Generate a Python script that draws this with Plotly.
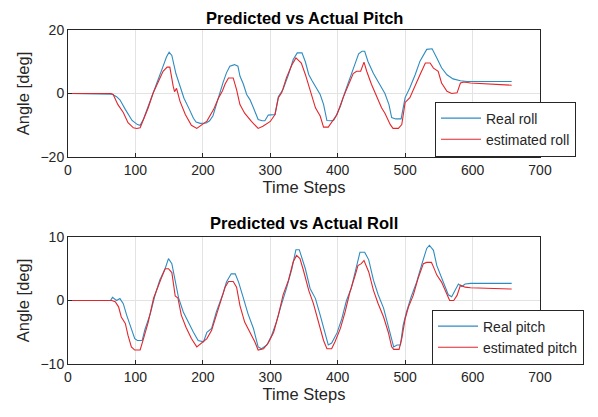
import plotly.graph_objects as go

# ---------------- data ----------------
# Top panel: "Predicted vs Actual Pitch"
real_roll_x = [0, 60, 65, 72, 77, 85, 95, 103, 107, 112, 118, 125, 133, 140, 146, 150, 154, 160, 166, 172, 180, 186, 190,
               196, 205, 210, 215, 220, 225, 230, 235, 240, 247, 252, 255, 260, 265, 270, 275, 282, 288, 292, 297, 307,
               312, 319, 327, 334, 340, 347, 352, 357, 362, 367, 374, 379, 384, 390, 394, 397, 404, 411, 418, 426, 431,
               436, 440, 445, 453, 463, 470, 476, 480, 486, 494, 500, 507, 515, 522, 532, 540, 547, 554, 562, 571,
               582, 592, 620, 658]
real_roll_y = [0, 0, -0.2, -1.0, -2.0, -5.0, -8.5, -9.8, -10.0, -8.0, -4.5, 0.0, 4.0, 8.0, 11.5, 13.0, 12.0, 6.3, 2.0,
               -1.5, -5.0, -7.8, -9.0, -9.4, -9.3, -8.6, -7.0, -3.5, 0.5, 3.5, 6.5, 8.6, 9.1, 8.6, 5.5, 3.0, -0.3, -2.0,
               -4.5, -8.2, -8.6, -8.6, -6.8, -6.6, -1.0, 1.3, 6.0, 10.7, 12.8, 12.8, 10.0, 6.0, 4.0, 2.3, -0.3, -3.4,
               -8.5, -8.6, -8.4, -7.3, -4.0, 0.6, 4.8, 9.0, 12.5, 13.3, 13.3, 10.0, 6.3, 2.6, 0.0, -3.5, -7.6, -8.0,
               -8.0, -1.3, 1.8, 6.0, 10.2, 13.9, 14.1, 11.2, 8.1, 5.9, 4.6, 4.0, 3.8, 3.8, 3.8]

est_roll_x = [0, 63, 67, 74, 82, 89, 97, 102, 107, 112, 119, 126, 134, 141, 147, 151, 156, 158, 161, 166, 174, 183,
              191, 198, 206, 216, 223, 229, 233, 238, 245, 250, 255, 262, 272, 282, 289, 300, 307, 312, 317, 324, 332,
              338, 343, 346, 352, 359, 367, 374, 379, 386, 391, 399, 408, 416, 423, 428, 434, 439, 443, 450, 458, 465,
              470, 478, 482, 490, 495, 500, 507, 515, 522, 530, 537, 542, 549, 554, 562, 569, 577, 582, 587, 597, 658]
est_roll_y = [0, 0, -0.3, -3.5, -6.0, -9.2, -10.8, -11.0, -10.8, -8.4, -4.5, 0.0, 3.9, 7.0, 8.3, 8.3, 2.3, 0.6, 1.6,
              -2.4, -6.6, -10.0, -11.0, -10.0, -8.7, -5.0, -1.5, 0.8, 3.0, 4.9, 4.9, 1.2, -3.5, -6.2, -8.8, -11.0,
              -10.3, -8.8, -6.6, -1.3, 0.3, 5.0, 9.0, 11.2, 10.2, 9.6, 6.0, 0.7, -4.5, -7.1, -10.6, -10.6, -9.2, -6.6,
              -1.3, 2.9, 6.3, 7.0, 7.0, 9.9, 7.0, 2.9, -0.8, -4.5, -6.2, -9.8, -11.0, -11.0, -9.8, -2.8, -1.3, 2.3,
              5.9, 9.6, 9.6, 8.0, 7.0, 3.3, 0.7, 0.0, 0.2, 3.3, 3.6, 3.3, 2.6]

# Bottom panel: "Predicted vs Actual Roll"
real_pitch_x = [0, 63, 66, 72, 77, 82, 87, 94, 99, 103, 110, 114, 122, 129, 136, 144, 149, 154, 159, 164, 171, 178,
                186, 193, 201, 206, 213, 220, 230, 235, 242, 248, 253, 260, 267, 275, 282, 287, 295, 302, 309, 316,
                324, 332, 338, 343, 346, 352, 359, 367, 374, 381, 386, 391, 399, 406, 413, 420, 428, 433, 440, 446,
                453, 460, 468, 475, 483, 488, 493, 497, 502, 509, 517, 525, 532, 536, 542, 547, 554, 559, 564, 569,
                574, 579, 584, 589, 597, 658]
real_pitch_y = [0, 0, 0.5, 0.0, 0.3, -0.5, -2.3, -4.4, -6.0, -6.3, -6.3, -4.6, -2.1, 0.8, 3.2, 5.0, 6.6, 5.8, 2.9, 0.4,
                -1.8, -3.4, -5.0, -6.3, -6.5, -5.0, -4.4, -1.8, 1.1, 2.9, 4.2, 4.2, 2.9, 0.4, -2.1, -4.4, -7.3, -7.6,
                -7.0, -5.5, -3.4, -0.8, 1.9, 5.0, 8.0, 8.0, 7.0, 5.0, 1.9, 0.3, -2.3, -5.1, -7.0, -6.7, -5.1, -2.9, 0.0,
                1.9, 5.5, 7.6, 7.6, 6.4, 3.2, 0.9, -1.2, -4.0, -7.3, -7.0, -7.0, -3.9, -1.8, 0.6, 2.9, 5.8, 8.2, 8.7,
                7.9, 5.5, 3.7, 2.2, 0.9, 0.6, 1.6, 2.6, 2.2, 2.6, 2.7, 2.7]

est_pitch_x = [0, 65, 70, 75, 79, 85, 89, 94, 99, 107, 112, 119, 127, 131, 138, 144, 149, 154, 159, 163, 168, 175,
               183, 191, 198, 206, 213, 220, 228, 233, 238, 245, 250, 255, 262, 270, 277, 282, 290, 297, 305, 312,
               319, 327, 334, 339, 344, 349, 357, 364, 371, 379, 384, 391, 396, 404, 411, 418, 426, 430, 435, 439,
               446, 453, 460, 468, 475, 480, 483, 491, 495, 500, 505, 512, 519, 527, 532, 539, 542, 547, 554, 562,
               566, 572, 577, 582, 589, 597, 658]
est_pitch_y = [0, 0, -0.2, -1.0, -2.6, -3.6, -5.5, -7.3, -7.8, -7.8, -6.0, -3.4, 0.4, 1.6, 3.4, 5.0, 5.0, 4.4, 0.7,
               0.4, -2.3, -4.2, -6.0, -7.3, -6.7, -6.0, -4.7, -2.3, 0.4, 2.1, 3.0, 3.0, 2.1, -0.8, -3.4, -5.0, -6.5,
               -7.8, -7.6, -6.7, -5.0, -2.3, 0.9, 3.2, 6.1, 7.1, 6.6, 4.8, 1.6, -0.5, -3.1, -6.3, -7.6, -7.6, -6.5,
               -4.4, -1.8, 1.3, 4.0, 5.5, 5.8, 6.3, 4.5, 1.6, -0.5, -2.6, -5.0, -7.3, -7.7, -7.7, -6.0, -2.9, -1.0,
               0.8, 3.4, 5.8, 6.0, 6.0, 5.3, 4.0, 2.9, 0.8, 0.0, 0.0, 0.8, 2.4, 2.1, 2.0, 1.8]

x_ticks = [0, 100, 200, 300, 400, 500, 600, 700]
top_y_ticks = [-20, 0, 20]
bot_y_ticks = [-10, 0, 10]

titles = ["Predicted vs Actual Pitch", "Predicted vs Actual Roll"]
x_title = "Time Steps"
y_title = "Angle [deg]"

# ---------------- styling ----------------
BLUE = "#2E8BC0"
RED = "#E3262B"
FONT = "Liberation Sans, Arial, sans-serif"
OFF = 8  # page body margin
W, H = 598 - OFF, 417 - OFF


def fx(p):
    return (p - OFF) / W


def fy(p):
    return 1 - (p - OFF) / H


fig = go.Figure()
fig.add_trace(go.Scatter(x=real_roll_x, y=real_roll_y, mode="lines", name="Real roll",
                         line=dict(color=BLUE, width=1.1), xaxis="x", yaxis="y", legend="legend"))
fig.add_trace(go.Scatter(x=est_roll_x, y=est_roll_y, mode="lines", name="estimated roll",
                         line=dict(color=RED, width=1.1), xaxis="x", yaxis="y", legend="legend"))
fig.add_trace(go.Scatter(x=real_pitch_x, y=real_pitch_y, mode="lines", name="Real pitch",
                         line=dict(color=BLUE, width=1.1), xaxis="x2", yaxis="y2", legend="legend2"))
fig.add_trace(go.Scatter(x=est_pitch_x, y=est_pitch_y, mode="lines", name="estimated pitch",
                         line=dict(color=RED, width=1.1), xaxis="x2", yaxis="y2", legend="legend2"))

x0, x1 = fx(68), fx(540)
top_dom = [fy(157), fy(30)]
bot_dom = [fy(364), fy(237)]

common_x = dict(range=[0, 700], tickvals=x_ticks, domain=[x0, x1], showgrid=True, gridcolor="#E3E3E3",
                gridwidth=1, zeroline=False, showline=True, linecolor="#262626", linewidth=1, mirror=True,
                ticks="inside", ticklen=4, tickcolor="#262626", automargin=False,
                tickfont=dict(family=FONT, size=14, color="#262626"),
                title=dict(text=x_title, font=dict(family=FONT, size=16.5, color="#262626"), standoff=4))
common_y = dict(showgrid=True, gridcolor="#E3E3E3", gridwidth=1, zeroline=False, showline=True,
                linecolor="#262626", linewidth=1, mirror=True, ticks="inside", ticklen=4, tickcolor="#262626",
                automargin=False,
                tickfont=dict(family=FONT, size=14, color="#262626"),
                title=dict(text=y_title, font=dict(family=FONT, size=16.5, color="#262626"), standoff=6))

legend_style = dict(bgcolor="white", bordercolor="#262626", borderwidth=1,
                    font=dict(family=FONT, size=14, color="#262626"), xanchor="left", yanchor="middle",
                    tracegroupgap=0, itemwidth=40)

fig.update_layout(
    width=W, height=H, margin=dict(l=0, r=0, t=0, b=0, autoexpand=False),
    paper_bgcolor="white", plot_bgcolor="white",
    xaxis=dict(common_x, anchor="y"),
    yaxis=dict(common_y, range=[-20, 20], tickvals=top_y_ticks, domain=top_dom, anchor="x"),
    xaxis2=dict(common_x, anchor="y2"),
    yaxis2=dict(common_y, range=[-10, 10], tickvals=bot_y_ticks, domain=bot_dom, anchor="x2"),
    legend=dict(legend_style, x=fx(435), y=fy(129)),
    legend2=dict(legend_style, x=fx(432), y=fy(337)),
    annotations=[
        dict(text="<b>%s</b>" % titles[0], x=(x0 + x1) / 2, y=1, xref="paper", yref="paper",
             showarrow=False, font=dict(family=FONT, size=16.5, color="black"), yanchor="top", borderpad=0),
        dict(text="<b>%s</b>" % titles[1], x=(x0 + x1) / 2, y=fy(223), xref="paper", yref="paper",
             showarrow=False, font=dict(family=FONT, size=16.5, color="black"), yanchor="middle"),
    ],
    showlegend=True,
)

fig.write_html("out.html")
